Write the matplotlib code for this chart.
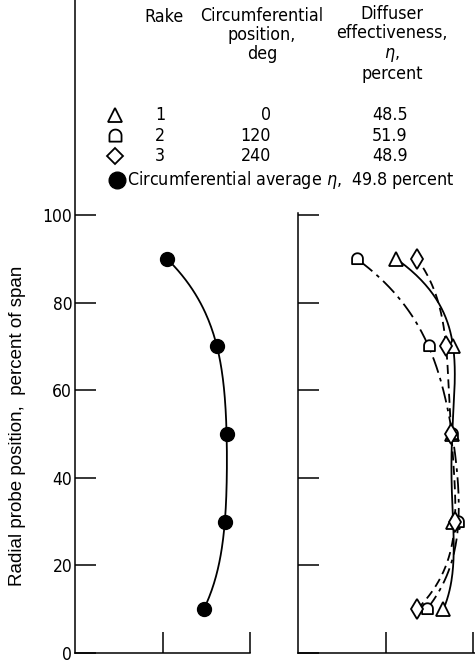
import numpy as np
import matplotlib
matplotlib.use('Agg')
import matplotlib.pyplot as plt
from matplotlib.path import Path

plt.rcParams['font.family'] = 'DejaVu Sans'
plt.rcParams['font.stretch'] = 'condensed'
plt.rcParams['mathtext.fontset'] = 'dejavusans'

# radial probe positions, percent of span
span = [10, 30, 50, 70, 90]

# circumferential average (left panel)
avg_vals = [1.47, 1.71, 1.73, 1.62, 1.05]

# individual rakes (right panel)
rake_ids = ['1', '2', '3']
rake_deg = ['0', '120', '240']
rake_eff = ['48.5', '51.9', '48.9']
rake1_vals = [1.66, 1.77, 1.76, 1.77, 1.12]
rake2_vals = [1.47, 1.83, 1.76, 1.49, 0.67]
rake3_vals = [1.36, 1.79, 1.75, 1.69, 1.36]
avg_eff = '49.8'

y_ticks = [0, 20, 40, 60, 80, 100]
x_ticks = [1, 2]

# arch-shaped marker: flat bottom, round top
th = np.linspace(0, np.pi, 25)
arch = np.vstack([np.column_stack([np.cos(th), 0.15 + np.sin(th)]),
                  [[-1, -0.85], [1, -0.85], [1, 0.15]]])
ARCH = Path(arch, closed=True)


def smooth(y, x, n=150):
    # faired curve x(y) through the measured points
    c = np.polyfit(y, x, len(y) - 1)
    yy = np.linspace(min(y), max(y), n)
    return np.polyval(c, yy), yy


W, H = 475, 662
fig = plt.figure(figsize=(W / 100, H / 100), dpi=100)

ymax = 653 / 4.38
ax1 = fig.add_axes([75 / W, 9 / H, 177 / W, 653 / H])
ax2 = fig.add_axes([298 / W, 9 / H, 177 / W, 653 / H])

for ax in (ax1, ax2):
    ax.set_xlim(0, 2.02)
    ax.set_ylim(0, ymax)
    ax.spines['top'].set_visible(False)
    ax.spines['right'].set_visible(False)
    for s in ('left', 'bottom'):
        ax.spines[s].set_linewidth(1.1)
    ax.set_xticks(x_ticks)
    ax.set_xticklabels([])
    ax.set_yticks(y_ticks)
    ax.tick_params(direction='in', length=15, width=1.1, pad=2, labelsize=12.5)
    ax.patch.set_alpha(0)

ax1.spines['bottom'].set_bounds(0, 2.0)
ax2.spines['left'].set_bounds(0, 100.5)
ax2.set_yticklabels([])

lw = 1.3
cx, cy = smooth(span, avg_vals)
ax1.plot(cx, cy, color='black', lw=lw, zorder=2)
ax1.plot(avg_vals, span, 'o', color='black', ms=10, zorder=3)

styles = [
    (rake1_vals, '^', 9.5, '-'),
    (rake2_vals, ARCH, 9, (0, (9, 3, 2, 3))),
    (rake3_vals, 'd', 10.5, (0, (5, 3))),
]
for vals, m, ms, ls in styles:
    cx, cy = smooth(span, vals)
    ax2.plot(cx, cy, color='black', lw=lw, ls=ls, zorder=2)
    ax2.plot(vals, span, ls='none', marker=m, ms=ms, mfc='white', mec='black',
             mew=1.3, zorder=3)

# key table and axis title drawn in figure pixels
key = fig.add_axes([0, 0, 1, 1])
key.set_xlim(0, W)
key.set_ylim(H, 0)
key.axis('off')
key.patch.set_alpha(0)

key.text(18, 426, 'Radial probe position,  percent of span', rotation=90,
         ha='center', va='center', family='Liberation Sans', stretch='normal',
         fontsize=13.5)

fs = 12.8
key.text(164, 17, 'Rake', ha='center', va='center', fontsize=fs)
key.text(262, 35, 'Circumferential\nposition,\ndeg', ha='center', va='center',
         fontsize=fs, linespacing=1.1, multialignment='center')
key.text(392, 44, 'Diffuser\neffectiveness,\n$\\eta$,\npercent', ha='center',
         va='center', fontsize=fs, linespacing=1.1, multialignment='center')

row_y = [115, 136, 156]
row_marks = [('^', 10), (ARCH, 10), ('D', 8)]
for i in range(3):
    m, ms = row_marks[i]
    key.plot([115], [row_y[i]], ls='none', marker=m, ms=ms, mfc='white',
             mec='black', mew=1.3)
    key.text(160, row_y[i], rake_ids[i], ha='center', va='center', fontsize=fs)
    key.text(271, row_y[i], rake_deg[i], ha='right', va='center', fontsize=fs)
    key.text(390, row_y[i], rake_eff[i], ha='center', va='center', fontsize=fs)

key.plot([117], [180], 'o', color='black', ms=12)
key.text(127, 180, 'Circumferential average $\\eta$,  ' + avg_eff + ' percent',
         ha='left', va='center', fontsize=fs)

fig.savefig('out.png', dpi=100)
